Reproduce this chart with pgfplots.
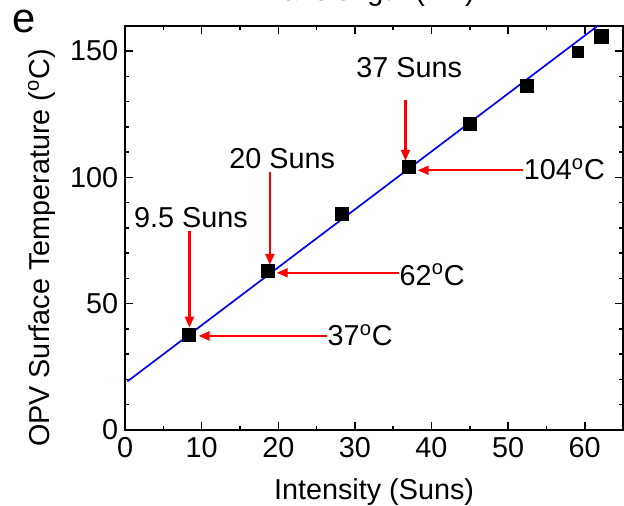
\documentclass[border=0pt]{standalone}
\usepackage{pgfplots}
\pgfplotsset{compat=1.18}
\usepackage{fontspec}
\setmainfont{Liberation Sans}
\usetikzlibrary{arrows.meta,calc}
\definecolor{fitblue}{RGB}{0,0,255}
\definecolor{annred}{RGB}{255,0,0}

\newcommand{\lblfont}{\fontsize{14.5}{17}\selectfont}
\newcommand{\degC}{\textsuperscript{o}C}

\begin{document}
\begin{tikzpicture}
\begin{axis}[
  width=250.75pt, height=203.5pt, scale only axis,
  xmin=0, xmax=65, ymin=0, ymax=160,
  xtick={0,10,...,60}, minor xtick={5,15,...,65},
  ytick={0,50,100,150}, minor ytick={10,20,...,160},
  tick align=inside,
  major tick length=4pt, minor tick length=2.2pt,
  axis line style={line width=1pt},
  every tick/.style={black, line width=0.8pt},
  /pgf/number format/assume math mode=true,
  tick label style={font=\lblfont},
  label style={font=\lblfont},
  xlabel={Intensity (Suns)},
  ylabel={OPV Surface Temperature (\degC)},
  xlabel style={at={(axis description cs:0.5,-0.155)}, anchor=center},
  ylabel style={at={(axis description cs:-0.1675,0.45)}, anchor=center},
  clip=false,
]
\coordinate (LL) at (rel axis cs:0,0);
\coordinate (UR) at (rel axis cs:1,1);
\coordinate (UL) at (rel axis cs:0,1);

% linear fit
\addplot[fitblue, line width=0.85pt] coordinates {(0.3,19.2) (61.7,160)};

% measured surface temperatures
\addplot[only marks, mark=square*, mark size=3.3pt, black]
  coordinates {(8.3,37.5) (18.6,62.8) (28.3,85.7) (37.1,104.1) (45.0,121.1) (52.4,136.3)};
\addplot[only marks, mark=square*, mark size=2.7pt, black]
  coordinates {(59.1,149.7)};
\addplot[only marks, mark=square*, mark size=3.6pt, black]
  coordinates {(62.2,155.7)};

% annotations
\tikzset{ann/.style={draw=annred, fill=annred, line width=1.15pt, -{Triangle[length=5.5pt,width=4.5pt]}}}
\draw[ann] (axis cs:36.6,130.5) -- (axis cs:36.6,106.6);
\draw[ann] (axis cs:52.0,102.8) -- (axis cs:38.2,102.8);
\draw[ann] (axis cs:18.9,102.0) -- (axis cs:18.9,65.4);
\draw[ann] (axis cs:35.8,62.2) -- (axis cs:19.8,62.2);
\draw[ann] (axis cs:8.4,78.7) -- (axis cs:8.4,40.5);
\draw[ann] (axis cs:26.4,37.2) -- (axis cs:9.6,37.2);

\node[font=\lblfont] at (axis cs:37.1,143.3) {37 Suns};
\node[font=\lblfont] at (axis cs:20.5,107.5) {20 Suns};
\node[font=\lblfont] at (axis cs:8.6,83.9) {9.5 Suns};
\node[font=\lblfont, anchor=west, inner sep=0pt] at (axis cs:52.0,103.3) {104\degC};
\node[font=\lblfont, anchor=west, inner sep=0pt] at (axis cs:35.8,61.5) {62\degC};
\node[font=\lblfont, anchor=west, inner sep=0pt] at (axis cs:26.4,37.5) {37\degC};
\end{axis}

% panel letter and the caption of the panel above
\node[font=\fontsize{21}{25}\selectfont, anchor=base west, inner sep=0pt] at ($(UL)+(-57pt,-3.5pt)$) {e};
\node[font=\lblfont, anchor=base east, inner sep=0pt] at ($(UL)+(176.25pt,12.6pt)$) {Wavelength (nm)};

\pgfresetboundingbox
\path ($(LL)+(-63pt,-38pt)$) rectangle ($(UR)+(0.5pt,13pt)$);
\end{tikzpicture}
\end{document}
